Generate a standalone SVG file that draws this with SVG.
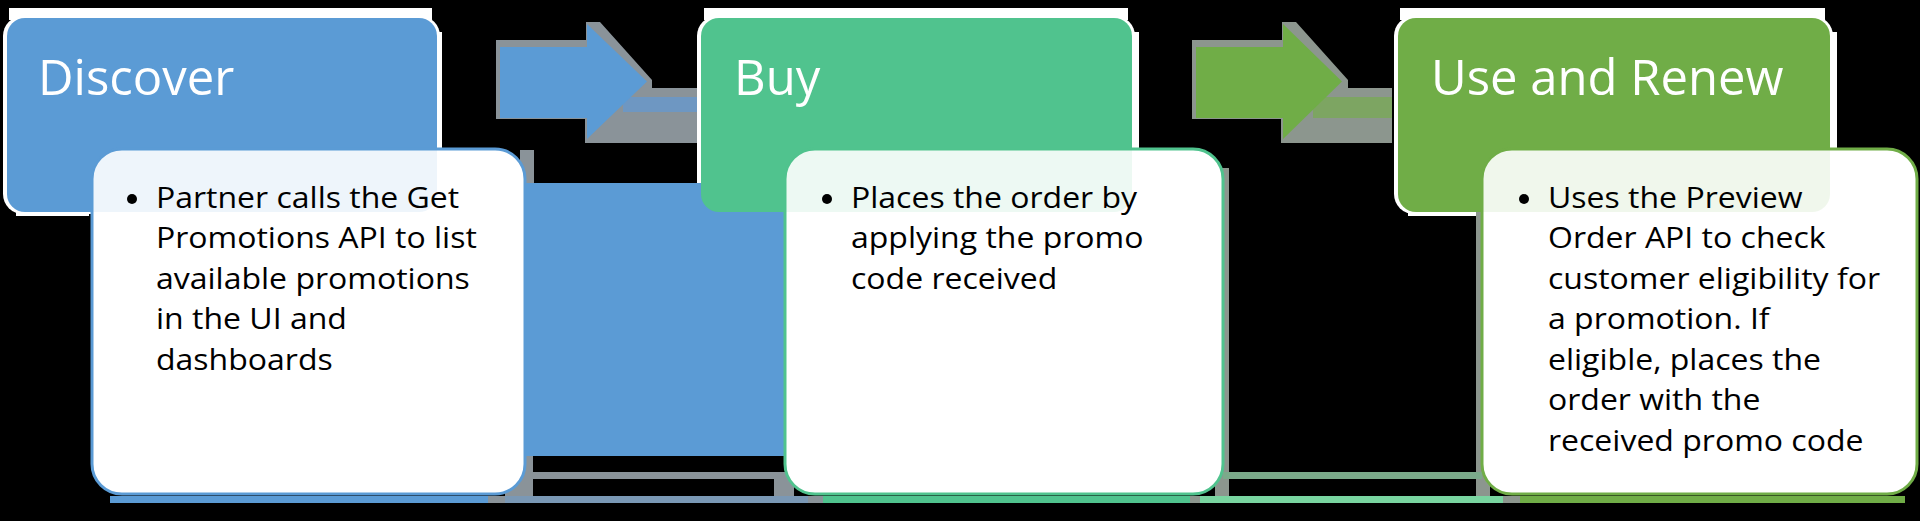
<svg xmlns="http://www.w3.org/2000/svg" width="1920" height="521" viewBox="0 0 1920 521">
<defs>
<style>
.title{font-family:"Open Sans","Liberation Sans",sans-serif;font-size:49px;fill:#ffffff}
.body{font-family:"Open Sans","Liberation Sans",sans-serif;font-size:29.5px;fill:#000000}
.bul{fill:#000000}
.fringe{fill:#ffffff}
.card{fill:#ffffff;stroke-width:3}
.blue{fill:#5B9BD5}
.green1{fill:#50C38E}
.green2{fill:#70AD47}
.grey{fill:#8A9399}
.greyg{fill:#8C968E}
</style>
<clipPath id="clip1"><rect x="92" y="149" width="433" height="345" rx="30"/></clipPath>
<clipPath id="clip2"><rect x="785" y="149" width="438" height="345" rx="30"/></clipPath>
<clipPath id="clip3"><rect x="1482" y="149" width="435" height="345" rx="30"/></clipPath>
</defs>
<rect x="0" y="0" width="1920" height="521" fill="#000000"/>

<g id="backdrop">
  <rect class="fringe" x="3" y="16" width="437" height="198" rx="20"/>
  <rect class="fringe" x="9" y="8" width="423" height="12"/>
  <rect class="fringe" x="436" y="32" width="6" height="118"/>
  <rect class="fringe" x="16" y="211" width="73" height="5"/>

  <rect class="fringe" x="697" y="16" width="438" height="198" rx="20"/>
  <rect class="fringe" x="704" y="8" width="424" height="12"/>
  <rect class="fringe" x="1131" y="32" width="8" height="118"/>
  <rect class="fringe" x="712" y="211" width="74" height="5"/>

  <rect class="fringe" x="1394" y="16" width="439" height="198" rx="20"/>
  <rect class="fringe" x="1400" y="8" width="425" height="12"/>
  <rect class="fringe" x="1829" y="32" width="8" height="118"/>
  <rect class="fringe" x="1408" y="211" width="75" height="5"/>

  <path class="grey" d="M496,40 H586 V22 H600 L652,80 V88 H697 V143 H585 V119 H496 Z"/>
  <rect x="623" y="97" width="74" height="15" fill="#6E97C2"/>
  <path class="greyg" d="M1192,40 H1282 V22 H1296 L1348,80 V88 H1392 V143 H1281 V119 H1192 Z"/>
  <rect x="1313" y="97" width="79" height="21" fill="#7DA562"/>

  <rect class="grey" x="520" y="150" width="14" height="36"/>
  <rect class="blue" x="480" y="183" width="320" height="273"/>
  <rect class="grey" x="505" y="456" width="28" height="47"/>
  <rect class="grey" x="774" y="472" width="20" height="31"/>
  <rect class="greyg" x="1215" y="168" width="14" height="335"/>
  <rect class="greyg" x="1476" y="168" width="14" height="335"/>

  <rect class="grey" x="527" y="472" width="257" height="7"/>
  <rect x="1223" y="472" width="259" height="7" fill="#7BAA8A"/>
  <rect class="blue" x="110" y="496" width="380" height="7"/>
  <rect class="grey" x="488" y="496" width="17" height="7"/>
  <rect x="505" y="496" width="303" height="7" fill="#7A98B5"/>
  <rect class="grey" x="808" y="496" width="15" height="7"/>
  <rect class="green1" x="823" y="496" width="367" height="7"/>
  <rect class="greyg" x="1190" y="496" width="10" height="7"/>
  <rect x="1200" y="496" width="303" height="7" fill="#79D5A0"/>
  <rect class="greyg" x="1503" y="496" width="17" height="7"/>
  <rect class="green2" x="1520" y="496" width="385" height="7"/>
</g>

<g id="connectors">
  <path class="blue" d="M500,47 H587 V24 L647,81.5 L587,139 V118 H500 Z"/>
  <path class="green2" d="M1196,47 H1283 V24 L1342,81.5 L1283,139 V118 H1196 Z"/>
</g>

<g id="node-discover">
  <rect class="blue" x="7" y="18" width="430" height="194" rx="18"/>
  <text class="title" x="38" y="95">Discover</text>
  <rect class="card" x="92" y="149" width="433" height="345" rx="30" stroke="#5B9BD5"/>
  <rect x="7" y="18" width="430" height="194" rx="18" fill="#5B9BD5" fill-opacity="0.1" clip-path="url(#clip1)"/>
  <circle class="bul" cx="132" cy="199" r="5"/>
  <text class="body" transform="translate(156,0) scale(1.085,1)">
    <tspan x="0" y="208">Partner calls the Get</tspan>
    <tspan x="0" y="248.5">Promotions API to list</tspan>
    <tspan x="0" y="289">available promotions</tspan>
    <tspan x="0" y="329.5">in the UI and</tspan>
    <tspan x="0" y="370">dashboards</tspan>
  </text>
</g>

<g id="node-buy">
  <rect class="green1" x="701" y="18" width="431" height="194" rx="18"/>
  <text class="title" x="734" y="95">Buy</text>
  <rect class="card" x="785" y="149" width="438" height="345" rx="30" stroke="#50C38E"/>
  <rect x="701" y="18" width="431" height="194" rx="18" fill="#50C38E" fill-opacity="0.1" clip-path="url(#clip2)"/>
  <circle class="bul" cx="827" cy="199" r="5"/>
  <text class="body" transform="translate(851,0) scale(1.085,1)">
    <tspan x="0" y="208">Places the order by</tspan>
    <tspan x="0" y="248.5">applying the promo</tspan>
    <tspan x="0" y="289">code received</tspan>
  </text>
</g>

<g id="node-use-renew">
  <rect class="green2" x="1398" y="18" width="432" height="194" rx="18"/>
  <text class="title" x="1431" y="95">Use and Renew</text>
  <rect class="card" x="1482" y="149" width="435" height="345" rx="30" stroke="#70AD47"/>
  <rect x="1398" y="18" width="432" height="194" rx="18" fill="#70AD47" fill-opacity="0.1" clip-path="url(#clip3)"/>
  <circle class="bul" cx="1524" cy="199" r="5"/>
  <text class="body" transform="translate(1548,0) scale(1.085,1)">
    <tspan x="0" y="208">Uses the Preview</tspan>
    <tspan x="0" y="248.5">Order API to check</tspan>
    <tspan x="0" y="289">customer eligibility for</tspan>
    <tspan x="0" y="329.5">a promotion. If</tspan>
    <tspan x="0" y="370">eligible, places the</tspan>
    <tspan x="0" y="410.5">order with the</tspan>
    <tspan x="0" y="451">received promo code</tspan>
  </text>
</g>
</svg>
